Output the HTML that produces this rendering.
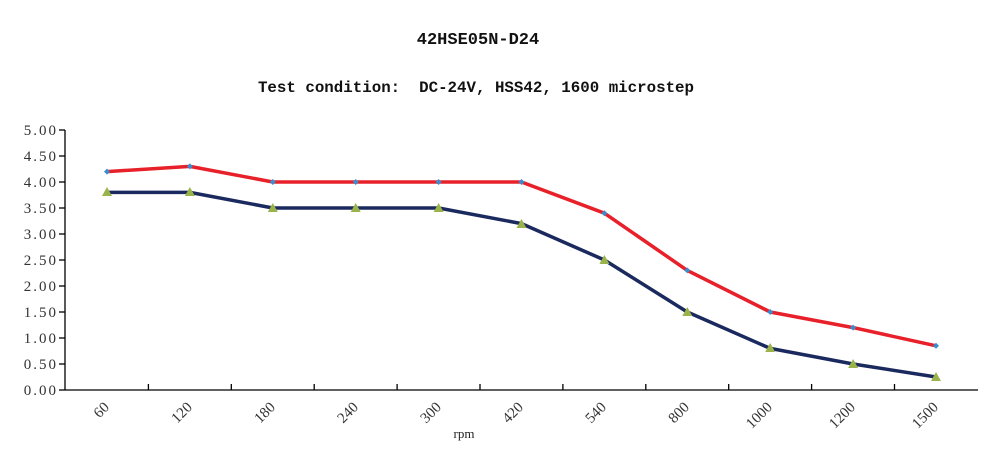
<!DOCTYPE html>
<html><head><meta charset="utf-8"><style>
html,body{margin:0;padding:0;background:#fff;width:1000px;height:460px;overflow:hidden}
</style></head><body>
<svg width="1000" height="460" xmlns="http://www.w3.org/2000/svg">
<rect width="1000" height="460" fill="#fff"/>
<text x="478" y="44" text-anchor="middle" font-family="Liberation Mono, monospace" font-weight="bold" font-size="17" fill="#111">42HSE05N-D24</text>
<text x="476" y="92" text-anchor="middle" font-family="Liberation Mono, monospace" font-weight="bold" font-size="15.8" fill="#111" xml:space="preserve">Test condition:  DC-24V, HSS42, 1600 microstep</text>
<g stroke="#000" stroke-width="1.3" fill="none">
<line x1="65" y1="130" x2="65" y2="390"/>
<line x1="65" y1="390" x2="978" y2="390"/>
<line x1="59" y1="130" x2="65" y2="130"/><line x1="59" y1="156" x2="65" y2="156"/><line x1="59" y1="182" x2="65" y2="182"/><line x1="59" y1="208" x2="65" y2="208"/><line x1="59" y1="234" x2="65" y2="234"/><line x1="59" y1="260" x2="65" y2="260"/><line x1="59" y1="286" x2="65" y2="286"/><line x1="59" y1="312" x2="65" y2="312"/><line x1="59" y1="338" x2="65" y2="338"/><line x1="59" y1="364" x2="65" y2="364"/><line x1="59" y1="390" x2="65" y2="390"/>
<line x1="148.4" y1="384" x2="148.4" y2="390"/><line x1="231.3" y1="384" x2="231.3" y2="390"/><line x1="314.2" y1="384" x2="314.2" y2="390"/><line x1="397.1" y1="384" x2="397.1" y2="390"/><line x1="480" y1="384" x2="480" y2="390"/><line x1="562.9" y1="384" x2="562.9" y2="390"/><line x1="645.8" y1="384" x2="645.8" y2="390"/><line x1="728.7" y1="384" x2="728.7" y2="390"/><line x1="811.6" y1="384" x2="811.6" y2="390"/><line x1="894.5" y1="384" x2="894.5" y2="390"/>
</g>
<g font-family="Liberation Serif, serif" font-size="15" fill="#333" text-anchor="end" letter-spacing="2">
<text x="58" y="135">5.00</text><text x="58" y="161">4.50</text><text x="58" y="187">4.00</text><text x="58" y="213">3.50</text><text x="58" y="239">3.00</text><text x="58" y="265">2.50</text><text x="58" y="291">2.00</text><text x="58" y="317">1.50</text><text x="58" y="343">1.00</text><text x="58" y="369">0.50</text><text x="58" y="395">0.00</text>
</g>
<g font-family="Liberation Serif, serif" font-size="15" fill="#333" text-anchor="end">
<text transform="translate(110,408) rotate(-45)">60</text>
<text transform="translate(193,408) rotate(-45)">120</text>
<text transform="translate(276,408) rotate(-45)">180</text>
<text transform="translate(359,408) rotate(-45)">240</text>
<text transform="translate(442,408) rotate(-45)">300</text>
<text transform="translate(524,408) rotate(-45)">420</text>
<text transform="translate(607,408) rotate(-45)">540</text>
<text transform="translate(690,408) rotate(-45)">800</text>
<text transform="translate(773,408) rotate(-45)">1000</text>
<text transform="translate(856,408) rotate(-45)">1200</text>
<text transform="translate(939,408) rotate(-45)">1500</text>
</g>
<text x="464" y="438" text-anchor="middle" font-family="Liberation Serif, serif" font-size="13" fill="#222">rpm</text>
<polyline fill="none" stroke="#1b2a5e" stroke-width="3.5" stroke-linejoin="round" points="107,192.4 189.9,192.4 272.8,208 355.7,208 438.6,208 521.5,223.6 604.4,260 687.3,312 770.2,348.4 853.1,364 936,377"/>
<polyline fill="none" stroke="#e8202a" stroke-width="3.5" stroke-linejoin="round" points="107,171.6 189.9,166.4 272.8,182 355.7,182 438.6,182 521.5,182 604.4,213.2 687.3,270.4 770.2,312 853.1,327.6 936,345.8"/>
<g fill="#9ab34a">
<polygon points="107,187 102,196 112,196"/><polygon points="189.9,187 184.9,196 194.9,196"/><polygon points="272.8,203 267.8,212 277.8,212"/><polygon points="355.7,203 350.7,212 360.7,212"/><polygon points="438.6,203 433.6,212 443.6,212"/><polygon points="521.5,219 516.5,228 526.5,228"/><polygon points="604.4,255 599.4,264 609.4,264"/><polygon points="687.3,307 682.3,316 692.3,316"/><polygon points="770.2,343 765.2,352 775.2,352"/><polygon points="853.1,359 848.1,368 858.1,368"/><polygon points="936,372 931,381 941,381"/>
</g>
<g fill="#3a8ccc">
<polygon points="107,168.6 110,171.6 107,174.6 104,171.6"/><polygon points="189.9,163.4 192.9,166.4 189.9,169.4 186.9,166.4"/><polygon points="272.8,179 275.8,182 272.8,185 269.8,182"/><polygon points="355.7,179 358.7,182 355.7,185 352.7,182"/><polygon points="438.6,179 441.6,182 438.6,185 435.6,182"/><polygon points="521.5,179 524.5,182 521.5,185 518.5,182"/><polygon points="604.4,210.2 607.4,213.2 604.4,216.2 601.4,213.2"/><polygon points="687.3,267.4 690.3,270.4 687.3,273.4 684.3,270.4"/><polygon points="770.2,309 773.2,312 770.2,315 767.2,312"/><polygon points="853.1,324.6 856.1,327.6 853.1,330.6 850.1,327.6"/><polygon points="936,342.8 939,345.8 936,348.8 933,345.8"/>
</g>
</svg>
</body></html>
